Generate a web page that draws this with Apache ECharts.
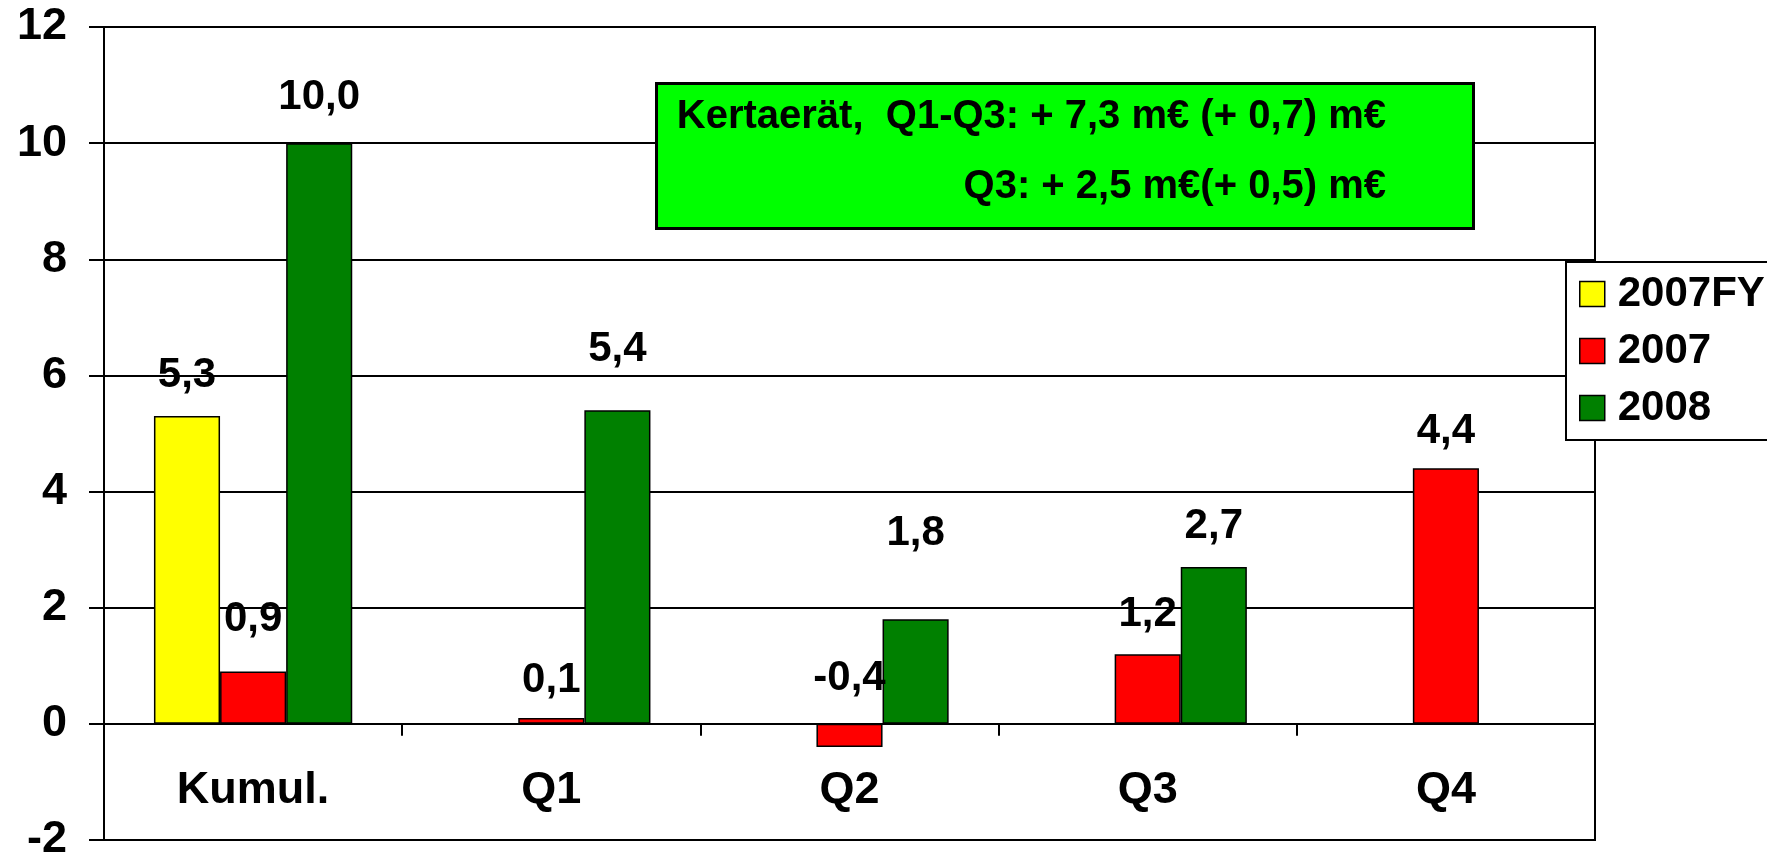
<!DOCTYPE html>
<html>
<head>
<meta charset="utf-8">
<script src="https://cdn.jsdelivr.net/npm/echarts@6/dist/echarts.min.js"></script>
<style>
html,body{margin:0;padding:0;background:#fff;}
#c{width:1767px;height:859px;}
</style>
</head>
<body>
<div id="c"></div>
<script>
const categories = ['Kumul.', 'Q1', 'Q2', 'Q3', 'Q4'];
const seriesNames = ['2007FY', '2007', '2008'];
const values2007FY = [5.3, null, null, null, null];
const values2007 = [0.9, 0.1, -0.4, 1.2, 4.4];
const values2008 = [10.0, 5.4, 1.8, 2.7, null];
const yTicks = { min: -2, max: 12, interval: 2 };
const boxLine1 = 'Kertaerät,  Q1-Q3: + 7,3 m€ (+ 0,7) m€';
const boxLine2 = 'Q3: + 2,5 m€(+ 0,5) m€';

// label placement (style only)
const labelDist2007FY = [20, 0, 0, 0, 0];
const labelDist2007 = [31, 17, 24, 19, 16];
const labelDist2008 = [25, 40, 65, 20, 0];

const FONT = '"Liberation Sans", Arial, sans-serif';
const colors = ['#FFFF00', '#FF0000', '#008000'];

function fmt(v) { return v.toFixed(1).replace('.', ','); }

function buildData(vals, dists) {
  return vals.map((v, i) => v === null ? '-' : {
    value: v,
    label: { distance: dists[i] }
  });
}

const valueSets = [values2007FY, values2007, values2008];
const distSets = [labelDist2007FY, labelDist2007, labelDist2008];

const series = seriesNames.map((name, k) => ({
  name: name,
  type: 'bar',
  barGap: '0%',
  barCategoryGap: '33.5%',
  data: buildData(valueSets[k], distSets[k]),
  itemStyle: { color: colors[k], borderColor: '#000', borderWidth: 1.5 },
  label: {
    show: true,
    position: 'top',
    formatter: p => fmt(p.value),
    fontFamily: FONT,
    fontWeight: 'bold',
    fontSize: 42,
    lineHeight: 42,
    color: '#000'
  },
  emphasis: { disabled: true }
}));

const chart = echarts.init(document.getElementById('c'), null, { renderer: 'canvas' });
chart.setOption({
  animation: false,
  backgroundColor: '#fff',
  grid: {
    left: 104, right: 172, top: 27, bottom: 19,
    outerBoundsMode: 'none',
    containLabel: false,
    show: true, borderColor: '#000', borderWidth: 2, backgroundColor: 'transparent'
  },
  legend: {
    orient: 'vertical',
    left: 1566, top: 262,
    padding: [8, 40, 8, 13],
    itemGap: 9,
    itemWidth: 25, itemHeight: 25,
    itemStyle: { borderColor: '#000', borderWidth: 1.5 },
    icon: 'rect',
    backgroundColor: '#fff',
    borderColor: '#000', borderWidth: 2,
    textStyle: { fontFamily: FONT, fontWeight: 'bold', fontSize: 42, lineHeight: 48, color: '#000', padding: [0, 0, 0, 8] },
    data: seriesNames
  },
  xAxis: [
    {
      type: 'category',
      data: categories,
      axisLine: { onZero: true, lineStyle: { color: '#000', width: 2 } },
      axisTick: { show: true, length: 12, lineStyle: { color: '#000', width: 2 } },
      axisLabel: { show: false },
      splitLine: { show: false }
    },
    {
      type: 'category',
      data: categories,
      position: 'bottom',
      axisLine: { show: false, onZero: false },
      axisTick: { show: false },
      axisLabel: { inside: true, fontFamily: FONT, fontWeight: 'bold', fontSize: 45, lineHeight: 45, color: '#000', margin: 27 },
      splitLine: { show: false }
    }
  ],
  yAxis: {
    type: 'value',
    min: yTicks.min, max: yTicks.max, interval: yTicks.interval,
    axisLine: { show: true, lineStyle: { color: '#000', width: 2 } },
    axisTick: { show: true, length: 15, lineStyle: { color: '#000', width: 2 } },
    axisLabel: { fontFamily: FONT, fontWeight: 'bold', fontSize: 45, color: '#000', margin: 37 },
    splitLine: { show: true, lineStyle: { color: '#000', width: 2 } }
  },
  series: series,
  graphic: [
    {
      type: 'rect', left: 655, top: 82, z: 100,
      shape: { width: 817, height: 145 },
      style: { fill: '#00FF00', stroke: '#000', lineWidth: 3 }
    },
    {
      type: 'text', z: 101, right: 1767 - 1386, top: 97,
      style: { text: boxLine1, font: 'bold 40px ' + FONT, fill: '#000', textAlign: 'right' }
    },
    {
      type: 'text', z: 101, right: 1767 - 1386, top: 167,
      style: { text: boxLine2, font: 'bold 40px ' + FONT, fill: '#000', textAlign: 'right' }
    }
  ]
});
</script>
</body>
</html>
